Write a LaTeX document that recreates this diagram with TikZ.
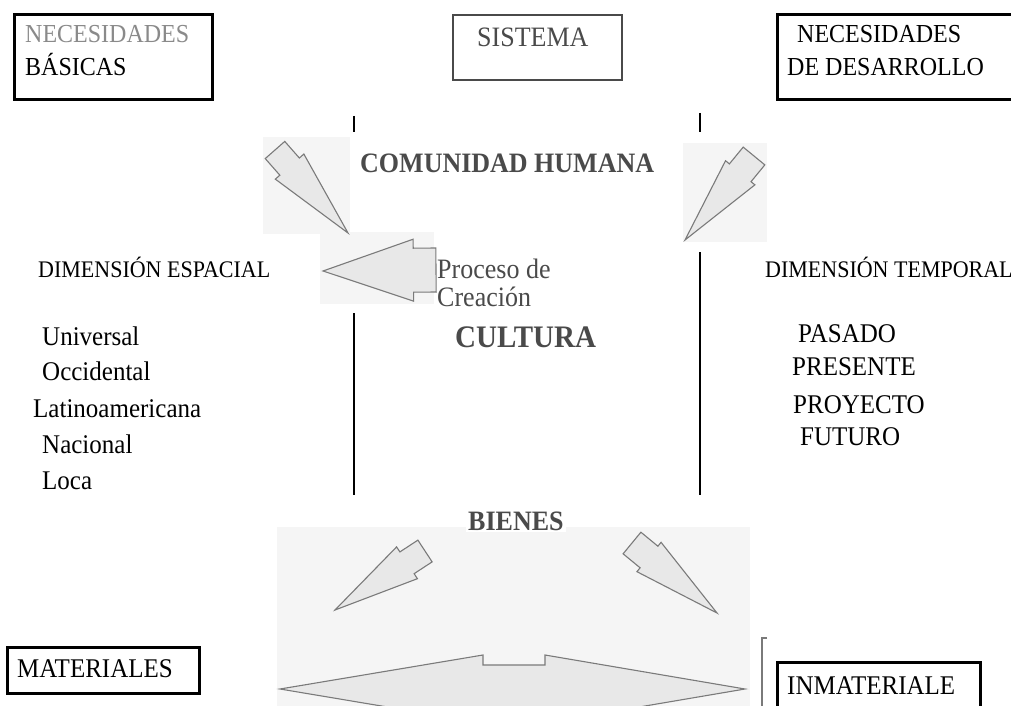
\documentclass[tikz,border=0pt]{standalone}
\usepackage{fontspec}
\usepackage{graphicx}
\setmainfont{Liberation Serif}
\usetikzlibrary{calc}
\definecolor{scan}{HTML}{4A4A4A}
\definecolor{lighttxt}{HTML}{8A8A8A}
\definecolor{arrowfill}{HTML}{E8E8E8}
\definecolor{arrowline}{HTML}{7A7A7A}
\definecolor{scanbg}{HTML}{F5F5F5}
\newcommand\T[1]{\scalebox{1}[1.08]{#1}}
\newcommand\blockarrow[5]{%
 \filldraw[blockarr] ($(#1)!#4!90:(#2)$) -- ($(#1)!#3!(#2)!#4!90:(#2)$) -- ($(#1)!#3!(#2)!#5!90:(#2)$) -- (#2) -- ($(#1)!#3!(#2)!#5!-90:(#2)$) -- ($(#1)!#3!(#2)!#4!-90:(#2)$) -- ($(#1)!#4!-90:(#2)$) -- cycle;}
\begin{document}
\begin{tikzpicture}[x=1pt,y=-1pt,
  txt/.style={inner sep=0pt, anchor=base west, font=\fontsize{25}{30}\selectfont},
  boxtxt/.style={txt, font=\fontsize{24}{28}\selectfont},
  dimtxt/.style={txt, font=\fontsize{22}{26}\selectfont},
  scantxt/.style={txt, text=scan, font=\fontsize{26}{30}\selectfont},
  boldscan/.style={txt, text=scan, font=\fontsize{#1}{30}\selectfont\bfseries},
  boxln/.style={line width=3pt},
  sysbox/.style={draw=scan, line width=2pt},
  vline/.style={line width=2.8pt},
  blockarr/.style={fill=arrowfill, draw=arrowline, line width=1.1pt, line join=miter},
  bg/.style={fill=scanbg}]
\path[use as bounding box] (0,0) rectangle (1011,706);
\clip (0,0) rectangle (1011,706);
\fill[white] (0,0) rectangle (1011,706);
% scanned backgrounds
\fill[bg] (263,137) rectangle (350,234);
\fill[bg] (683,143) rectangle (767,242);
\fill[bg] (320,232) rectangle (434,304);
\fill[bg] (277,527) rectangle (750,706);
% boxes
\draw[boxln] (14,15) rectangle (212,100);
\draw[sysbox] (453,15) rectangle (622,80);
\draw[boxln] (777,15) rectangle (1040,100);
\draw[boxln] (7,647) rectangle (199,693);
\draw[boxln] (777,662) rectangle (980,730);
% vertical lines
\draw[vline] (354,116) -- (354,132);
\draw[vline] (700,113) -- (700,132);
\draw[vline] (354,313) -- (354,495);
\draw[vline] (700,252) -- (700,495);
% arrows
\coordinate (ulT) at (275,150); \coordinate (ulH) at (348,233);
\coordinate (urT) at (754,156); \coordinate (urH) at (685,240);
\coordinate (mT) at (436,270); \coordinate (mH) at (323,271);
\coordinate (llT) at (425,551); \coordinate (llH) at (335,610);
\coordinate (lrT) at (632,543); \coordinate (lrH) at (717,613);
\blockarrow{ulT}{ulH}{0.2}{13pt}{19pt}
\blockarrow{urT}{urH}{0.2}{14pt}{19pt}
\blockarrow{mT}{mH}{0.2}{22pt}{31pt}
\blockarrow{llT}{llH}{0.2}{13pt}{19pt}
\blockarrow{lrT}{lrH}{0.2}{14pt}{19pt}
\filldraw[blockarr] (280,689) -- (483,655) -- (483,665) -- (545,665) -- (545,655) -- (745,689) -- (545,723) -- (545,713) -- (483,713) -- (483,723) -- cycle;
\draw[draw=arrowline, line width=1.5pt] (767,638) -- (762,638) -- (762,706);
% texts
\node[boxtxt, text=lighttxt] (nb1) at (25,43) {\T{NECESIDADES}};
\node[boxtxt] (nb2) at (25,76) {\T{BÁSICAS}};
\node[scantxt] (sis) at (477,47) {\T{SISTEMA}};
\node[boxtxt] (nd1) at (797,43) {\T{NECESIDADES}};
\node[boxtxt] (nd2) at (787,76) {\T{DE DESARROLLO}};
\node[boldscan=26] (com) at (360,172) {\T{COMUNIDAD HUMANA}};
\node[dimtxt] (desp) at (38,277) {\T{DIMENSIÓN ESPACIAL}};
\node[dimtxt] (dtem) at (765,277) {\T{DIMENSIÓN TEMPORAL}};
\node[scantxt] (proc) at (437,278) {\T{Proceso de}};
\node[scantxt] (crea) at (437,306) {\T{Creación}};
\node[boldscan=29] (cult) at (455,347) {\T{CULTURA}};
\node[txt] (l1) at (42,345) {\T{Universal}};
\node[txt] (l2) at (42,380) {\T{Occidental}};
\node[txt] (l3) at (33,417) {\T{Latinoamericana}};
\node[txt] (l4) at (42,453) {\T{Nacional}};
\node[txt] (l5) at (42,489) {\T{Loca}};
\node[txt] (r1) at (798,342) {\T{PASADO}};
\node[txt] (r2) at (792,375) {\T{PRESENTE}};
\node[txt] (r3) at (793,413) {\T{PROYECTO}};
\node[txt] (r4) at (800,445) {\T{FUTURO}};
\node[boldscan=26, fill=white, inner sep=2pt] (bien) at (466,530) {\T{BIENES}};
\node[txt] (mat) at (17,677) {\T{MATERIALES}};
\node[txt] (inm) at (787,694) {\T{INMATERIALE}};
\end{tikzpicture}
\end{document}
